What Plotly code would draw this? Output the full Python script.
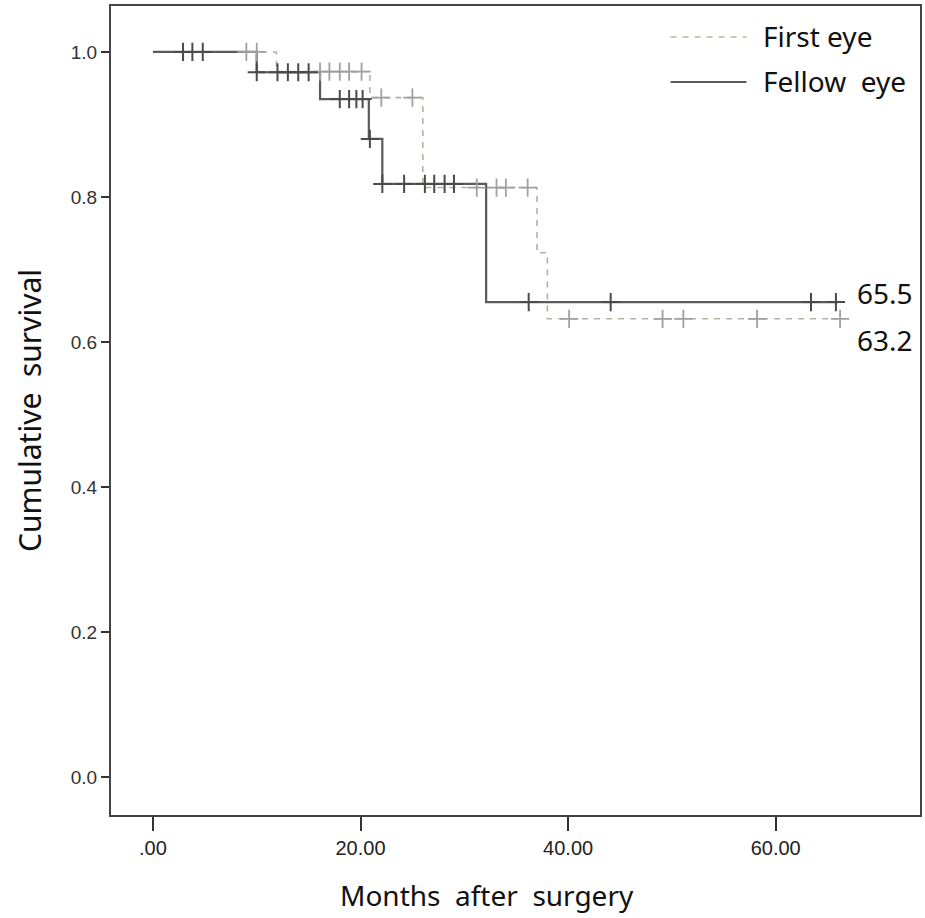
import plotly.graph_objects as go

# Kaplan-Meier step data (months, cumulative survival)
first_times = [0, 11.9, 20.9, 26.0, 37.0, 38.0, 66.2]
first_surv = [1.0, 0.973, 0.937, 0.813, 0.723, 0.632, 0.632]
fellow_times = [0, 10.0, 16.1, 20.8, 22.1, 32.1, 66.0]
fellow_surv = [1.0, 0.972, 0.935, 0.880, 0.818, 0.655, 0.655]

# censored observations
first_cens_t = [9.0, 10.0, 16.1, 17.0, 18.0, 18.9, 20.1, 22.0, 25.0,
                31.2, 33.1, 34.0, 36.1, 40.1, 49.1, 51.1, 58.2, 66.2]
first_cens_s = [1.0, 1.0, 0.973, 0.973, 0.973, 0.973, 0.973, 0.937, 0.937,
                0.813, 0.813, 0.813, 0.813, 0.632, 0.632, 0.632, 0.632, 0.632]
fellow_cens_t = [2.9, 3.8, 4.8, 10.0, 12.0, 13.0, 14.0, 15.0, 18.0, 18.9,
                 19.6, 20.2, 20.9, 22.1, 24.2, 26.2, 27.1, 28.1, 29.0,
                 36.2, 44.1, 63.4, 65.8]
fellow_cens_s = [1.0, 1.0, 1.0, 0.972, 0.972, 0.972, 0.972, 0.972, 0.935, 0.935,
                 0.935, 0.935, 0.880, 0.818, 0.818, 0.818, 0.818, 0.818, 0.818,
                 0.655, 0.655, 0.655, 0.655]

series_names = ["First eye", "Fellow eye"]
end_labels = ["63.2", "65.5"]
x_ticks = [0, 20, 40, 60]
x_ticklabels = [".00", "20.00", "40.00", "60.00"]
y_ticks = [0.0, 0.2, 0.4, 0.6, 0.8, 1.0]
y_ticklabels = ["0.0", "0.2", "0.4", "0.6", "0.8", "1.0"]

first_col = "#b2b2a6"
fellow_col = "#5a5a5a"
font_main = "Noto Sans, Open Sans, sans-serif"

fig = go.Figure()
fig.add_trace(go.Scatter(x=first_times, y=first_surv, mode="lines", line_shape="hv",
                         line=dict(color=first_col, width=1.6, dash="6px,6px"),
                         name=series_names[0], showlegend=False))
fig.add_trace(go.Scatter(x=fellow_times, y=fellow_surv, mode="lines", line_shape="hv",
                         line=dict(color=fellow_col, width=2.2),
                         name=series_names[1], showlegend=False))
fig.add_trace(go.Scatter(x=first_cens_t, y=first_cens_s, mode="markers",
                         marker=dict(symbol="cross-thin", size=13,
                                     line=dict(color="#a0a0a0", width=1.8)),
                         showlegend=False, hoverinfo="skip"))
fig.add_trace(go.Scatter(x=fellow_cens_t, y=fellow_cens_s, mode="markers",
                         marker=dict(symbol="cross-thin", size=13,
                                     line=dict(color="#4a4a4a", width=2)),
                         showlegend=False, hoverinfo="skip"))

# end-value annotations
fig.add_annotation(x=67.6, y=fellow_surv[-1], text=end_labels[1], showarrow=False,
                   xanchor="left", yanchor="middle", yshift=9,
                   font=dict(family=font_main, size=28, color="#111111"))
fig.add_annotation(x=67.6, y=first_surv[-1], text=end_labels[0], showarrow=False,
                   xanchor="left", yanchor="middle", yshift=-21,
                   font=dict(family=font_main, size=28, color="#111111"))

# manual legend (paper coords)
W, H = 925, 918
ml, mr, mt, mb = 111, 3, 6, 103
pw, ph = W - ml - mr, H - mt - mb
def px(xp):
    return (xp - ml) / pw
def py(yp):
    return 1 - (yp - mt) / ph

fig.add_shape(type="line", xref="paper", yref="paper", x0=px(672), x1=px(748),
              y0=py(37), y1=py(37), line=dict(color="#b8b89a", width=1.6, dash="6px,6px"))
fig.add_shape(type="line", xref="paper", yref="paper", x0=px(672), x1=px(748),
              y0=py(82), y1=py(82), line=dict(color=fellow_col, width=2))
fig.add_annotation(xref="paper", yref="paper", x=px(763), y=py(36), text=series_names[0],
                   showarrow=False, xanchor="left", yanchor="middle",
                   font=dict(family=font_main, size=28, color="#111111"))
fig.add_annotation(xref="paper", yref="paper", x=px(763), y=py(81),
                   text=series_names[1].replace(" ", "&nbsp; "),
                   showarrow=False, xanchor="left", yanchor="middle",
                   font=dict(family=font_main, size=28, color="#111111"))

# x axis title (placed like the reference, left of plot centre)
fig.add_annotation(xref="paper", yref="paper", x=px(488), y=py(895),
                   text="Months&nbsp; after&nbsp; surgery", showarrow=False,
                   xanchor="center", yanchor="middle",
                   font=dict(family=font_main, size=28, color="#111111"))

fig.update_layout(
    width=W, height=H,
    margin=dict(l=ml, r=mr, t=mt, b=mb, pad=0),
    paper_bgcolor="white", plot_bgcolor="white",
    showlegend=False,
)
fig.update_xaxes(range=[-4.04, 73.9], tickvals=x_ticks, ticktext=x_ticklabels,
                 showgrid=False, zeroline=False, showline=True, mirror=True,
                 linecolor="#444444", linewidth=2, ticks="outside", ticklen=14,
                 tickwidth=2, tickcolor="#333333",
                 tickfont=dict(family="Liberation Sans, Arial, sans-serif", size=20, color="#222222"))
fig.update_yaxes(range=[-0.0524, 1.0634], tickvals=y_ticks, ticktext=y_ticklabels,
                 showgrid=False, zeroline=False, showline=True, mirror=True,
                 linecolor="#444444", linewidth=2, ticks="outside", ticklen=8,
                 tickwidth=2, tickcolor="#333333",
                 tickfont=dict(family="Liberation Sans, Arial, sans-serif", size=19, color="#333333"),
                 title=dict(text="Cumulative&nbsp; survival", standoff=20,
                            font=dict(family=font_main, size=30, color="#111111")))

fig.write_html("out.html", config={"displayModeBar": False},
               post_script="document.body.style.margin='0';")
